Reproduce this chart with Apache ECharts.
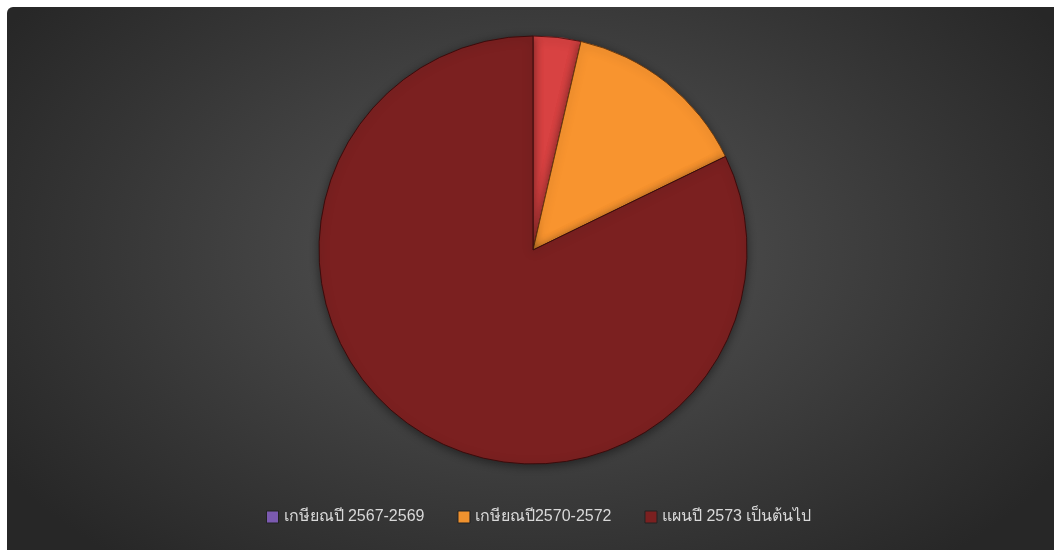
<!DOCTYPE html>
<html>
<head>
<meta charset="utf-8">
<script src="https://cdn.jsdelivr.net/npm/echarts@6/dist/echarts.min.js"></script>
<style>
  html, body { margin: 0; padding: 0; background: #ffffff; }
  #bg { position: absolute; left: 7px; top: 7px; width: 1047px; height: 543px;
        border-radius: 6px 0 0 0;
        background: radial-gradient(ellipse 60% 75% at 50% 45%, #4d4d4d 0%, #464646 35%, #353535 70%, #272727 100%); }
  #chart { position: absolute; left: 0; top: 0; width: 1054px; height: 550px; }
</style>
</head>
<body>
<div id="bg"></div>
<div id="chart"></div>
<script>
// Data (percent share)
const categories = ['เกษียณปี 2567-2569', 'เกษียณปี2570-2572', 'แผนปี 2573 เป็นต้นไป'];
const values = [3.6, 14.2, 82.2];
const sliceColors = ['#d84242', '#f8942f', '#7b2020'];
const sliceBorders = ['#5a1515', '#6a3a10', '#3a0c0c'];
const legendColors = ['#7b5ab0', '#f0922e', '#7b2020'];

const chart = echarts.init(document.getElementById('chart'), null, { renderer: 'canvas' });

chart.setOption({
  backgroundColor: 'transparent',
  animation: false,
  legend: {
    bottom: 20,
    left: 261,
    itemWidth: 12,
    itemHeight: 12,
    itemGap: 33,
    icon: 'rect',
    textStyle: { color: '#d9d9d9', fontSize: 16, fontFamily: 'Liberation Sans, Noto Sans, DejaVu Sans, sans-serif' },
    data: categories.map((n, i) => ({
      name: n,
      itemStyle: { color: legendColors[i], borderColor: '#222', borderWidth: 1 }
    }))
  },
  series: [{
    type: 'pie',
    center: [533, 250],
    radius: [0, 214],
    startAngle: 90,
    clockwise: true,
    label: { show: false },
    labelLine: { show: false },
    emphasis: { disabled: true },
    data: categories.map((n, i) => ({
      name: n, value: values[i],
      itemStyle: { color: sliceColors[i], borderColor: sliceBorders[i], borderWidth: 1,
                   shadowBlur: 10, shadowColor: 'rgba(0,0,0,0.45)', shadowOffsetY: 2 }
    }))
  }]
});
</script>
</body>
</html>
